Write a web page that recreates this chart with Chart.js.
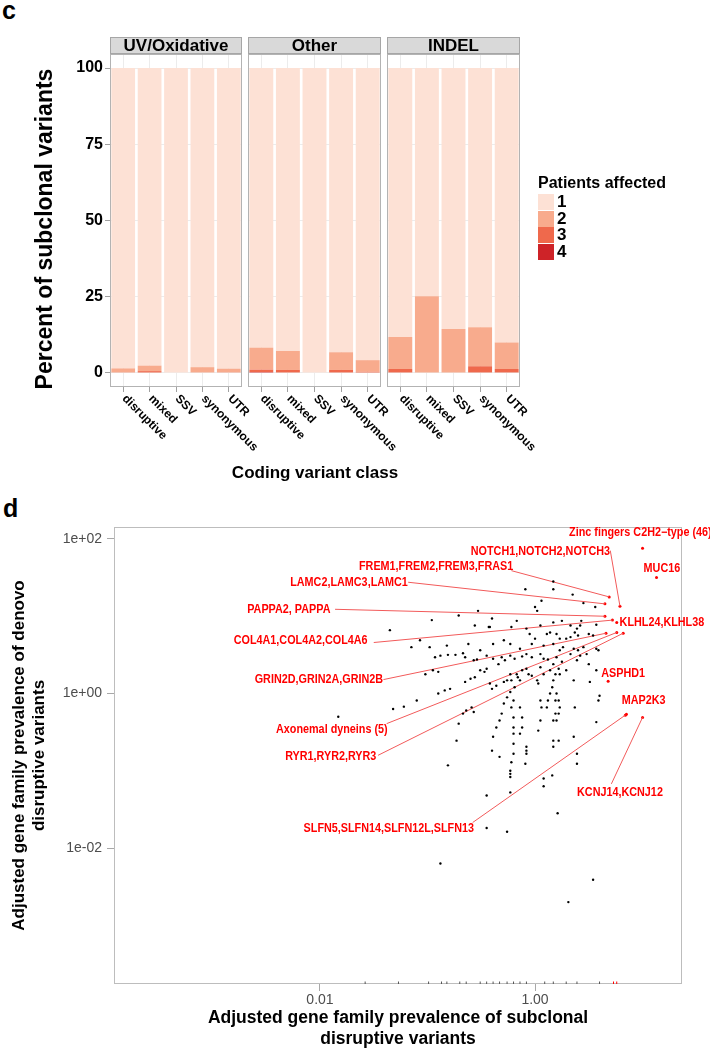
<!DOCTYPE html>
<html>
<head>
<meta charset="utf-8">
<script src="https://cdn.jsdelivr.net/npm/chart.js@4.4.1/dist/chart.umd.min.js"></script>
<style>
  body { margin: 0; background: #fff; width: 710px; height: 1050px; position: relative; overflow: hidden;
         font-family: "Liberation Sans", Arial, Helvetica, sans-serif; }
  canvas { position: absolute; left: 0; }
  .txt { position: absolute; font-weight: bold; color: #000; white-space: nowrap; }
</style>
</head>
<body>
<div class="txt" style="left:2px;top:-4px;font-size:25px">c</div>
<canvas id="facet0" width="710" height="480" style="top:0"></canvas>
<canvas id="facet1" width="710" height="480" style="top:0"></canvas>
<canvas id="facet2" width="710" height="480" style="top:0"></canvas>
<div id="legend"></div>
<div class="txt" style="left:165px;width:300px;text-align:center;top:463px;font-size:17px;line-height:20px">Coding variant class</div>
<div class="txt" style="left:3px;top:494px;font-size:25px">d</div>
<canvas id="scatter" width="710" height="560" style="top:490px"></canvas>

<script>
// ---- panel c: percent of subclonal variants by patients affected ----
const variantClasses = ["disruptive", "mixed", "SSV", "synonymous", "UTR"];
const mutationGroups = ["UV/Oxidative", "Other", "INDEL"];
const patientLevels = ["1", "2", "3", "4"];
const percentTicks = [0, 25, 50, 75, 100];

const uvPatients1 = [98.5, 97.6, 100, 98.1, 98.6];
const uvPatients2 = [1.3, 1.8, 0, 1.9, 1.2];
const uvPatients3 = [0.2, 0.6, 0, 0, 0.2];
const uvPatients4 = [0, 0, 0, 0, 0];

const otherPatients1 = [91.7, 92.8, 100, 93.2, 95.8];
const otherPatients2 = [7.2, 6.2, 0, 5.8, 3.8];
const otherPatients3 = [0.8, 1.0, 0, 1.0, 0.4];
const otherPatients4 = [0.3, 0, 0, 0, 0];

const indelPatients1 = [88.2, 74.8, 85.6, 85.0, 90.0];
const indelPatients2 = [10.5, 25.2, 14.4, 12.8, 8.7];
const indelPatients3 = [1.3, 0, 0, 2.2, 1.3];
const indelPatients4 = [0, 0, 0, 0, 0];

// ---- panel d: gene family prevalence (log10 values) ----
const subclonalTicks = [-2, 0];
const subclonalTickLabels = ["0.01", "1.00"];
const denovoTicks = [-2, 0, 2];
const denovoTickLabels = ["1e-02", "1e+00", "1e+02"];

const subclonalLog10 = [-0.09,0.17,0.17,0.35,0.06,0.00,0.02,0.45,0.56,-0.53,-0.71,-0.96,-1.35,-0.40,-0.43,-0.42,-0.56,-0.22,-0.17,0.05,
  0.17,0.25,0.33,0.39,0.42,0.43,0.57,-0.08,-0.05,0.00,0.14,0.11,0.20,0.23,0.29,0.33,0.37,0.40,0.50,0.54,
  -1.07,-1.15,-0.98,-0.82,-0.62,-0.51,-0.39,-0.29,-0.23,-0.14,-0.03,0.08,0.17,0.23,0.26,0.36,0.40,0.45,0.48,0.57,
  0.59,-0.93,-0.88,-0.81,-0.74,-0.67,-0.65,-0.57,-0.54,-0.45,-0.39,-0.34,-0.31,-0.28,-0.23,-0.19,-0.12,-0.08,-0.03,0.05,
  0.08,0.12,0.20,0.25,0.33,0.39,0.42,0.50,0.51,0.57,0.59,0.60,-1.02,-0.95,-0.90,-0.65,-0.60,-0.56,-0.51,-0.47,
  -0.45,-0.42,-0.40,-0.36,-0.29,-0.26,-0.23,-0.22,-0.17,-0.16,-0.12,-0.08,-0.06,-0.03,0.02,0.03,0.05,0.08,0.14,0.17,
  0.19,0.22,0.23,0.29,0.36,-1.10,-1.22,-1.32,-0.90,-0.84,-0.79,-0.71,-0.67,-0.64,-0.59,-0.57,-0.73,-0.40,-0.39,-0.36,
  -0.33,-0.31,-0.29,-0.26,-0.23,-0.19,-0.14,-0.20,-0.22,-0.20,-0.20,-0.20,-0.20,-0.20,-0.14,-0.12,-0.12,-0.14,-0.08,-0.08,
  0.05,0.06,0.05,0.03,0.11,0.12,0.14,0.16,0.17,0.19,0.19,0.17,0.20,0.22,0.23,0.22,0.20,0.17,0.22,0.17,
  0.36,0.39,0.37,0.57,-0.33,-0.81,-0.22,-0.23,-0.23,-0.23,-0.08,-0.09,0.08,0.08,0.16,0.39,-0.45,-0.23,0.21,-0.45,
  -0.26,-0.88,0.54,0.31,-1.83];
const denovoLog10 = [1.35,1.45,1.35,1.28,1.20,1.12,1.07,1.17,1.12,1.07,1.01,0.95,0.82,0.97,0.86,0.86,0.88,0.86,0.94,0.88,
  0.92,0.94,0.88,0.84,0.88,0.94,0.89,0.84,0.77,0.71,0.79,0.77,0.77,0.71,0.71,0.73,0.79,0.75,0.77,0.75,
  0.69,0.60,0.60,0.62,0.64,0.56,0.64,0.69,0.64,0.58,0.64,0.62,0.64,0.56,0.60,0.58,0.56,0.60,0.51,0.58,
  0.56,0.47,0.49,0.50,0.50,0.52,0.47,0.43,0.44,0.49,0.45,0.38,0.47,0.43,0.49,0.45,0.48,0.51,0.47,0.51,
  0.45,0.44,0.47,0.41,0.51,0.43,0.49,0.38,0.15,0.30,-0.09,-0.03,0.25,0.30,0.28,0.15,0.19,0.21,0.30,0.28,
  0.32,0.13,0.06,0.10,0.15,0.17,0.25,0.17,0.25,0.21,0.30,0.32,0.25,0.23,0.17,0.13,0.34,0.25,0.30,0.38,
  0.25,0.32,0.25,0.30,0.17,-0.09,-0.17,-0.20,0.00,0.04,0.06,-0.39,-0.26,-0.22,-0.18,-0.24,-0.61,-0.74,-0.56,-0.44,
  -0.35,-0.26,-0.13,-0.05,0.02,0.08,0.17,-0.09,-0.18,-0.31,-0.44,-0.52,-0.65,-0.78,-0.18,-0.31,-0.44,-0.52,-0.69,-0.78,
  -0.09,-0.18,-0.35,-0.48,-0.18,-0.09,0.00,0.08,0.17,-0.09,-0.26,-0.35,0.00,-0.09,-0.18,-0.26,-0.35,-0.61,-0.61,-0.69,
  -0.56,-0.78,-0.18,-0.37,-0.82,-0.93,-0.89,-1.00,-1.04,-1.08,-0.74,-0.91,-1.10,-1.20,-1.06,-0.91,-1.32,-1.28,-1.55,-1.74,
  -1.79,-2.20,-2.41,-2.70,-0.30];
// families with no de novo variants (log10 subclonal), shown as a rug on the x axis
const zeroDenovoLog10 = [-1.58,-1.27,-0.99,-0.87,-0.82,-0.70,-0.64,-0.51,-0.45,-0.39,-0.33,-0.26,-0.20,-0.14,-0.08,0.09,0.17,0.29,0.39,0.60];
const zeroDenovoHighlightLog10 = [0.73, 0.76];

const familyNames = ["Zinc fingers C2H2\u2212type (46)", "MUC16", "NOTCH1,NOTCH2,NOTCH3", "FREM1,FREM2,FREM3,FRAS1",
  "LAMC2,LAMC3,LAMC1", "PAPPA2, PAPPA", "KLHL24,KLHL38", "COL4A1,COL4A2,COL4A6", "GRIN2D,GRIN2A,GRIN2B",
  "Axonemal dyneins (5)", "RYR1,RYR2,RYR3", "ASPHD1", "MAP2K3", "SLFN5,SLFN14,SLFN12L,SLFN13", "KCNJ14,KCNJ12"];
const familySubclonal = [1.00, 1.13, 0.79, 0.69, 0.65, 0.65, 0.76, 0.72, 0.66, 0.76, 0.82, 0.68, 0.85, 0.84, 1.00];
const familyDenovo    = [1.88, 1.50, 1.13, 1.25, 1.16, 1.00, 0.92, 0.95, 0.78, 0.79, 0.78, 0.16, -0.27, -0.28, -0.31];
const labelSubclonal  = [0.98, 1.18, 0.05, -0.92, -1.73, -2.29, 1.18, -2.18, -2.01, -1.89, -1.90, 0.82, 1.01, -1.36, 0.79];
const labelDenovo     = [2.08, 1.62, 1.84, 1.64, 1.44, 1.09, 0.92, 0.69, 0.18, -0.47, -0.82, 0.26, -0.09, -1.75, -1.29];
const segmentSubclonal = [null, null, 0.70, -0.22, -1.18, -1.86, null, -1.50, -1.41, -1.38, -1.46, null, null, -0.58, 0.71];
const segmentDenovo    = [null, null, 1.85, 1.59, 1.44, 1.09, null, 0.66, 0.18, -0.39, -0.80, null, null, -1.67, -1.17];

// ---- styling ----
const FONT = '"Liberation Sans", Arial, Helvetica, sans-serif';
Chart.defaults.font.family = FONT;
Chart.defaults.animation = false;
const patientColors = ["#fde1d5", "#f8ab8d", "#ef694c", "#ce2328"];
const facetValues = [
  [uvPatients1, uvPatients2, uvPatients3, uvPatients4],
  [otherPatients1, otherPatients2, otherPatients3, otherPatients4],
  [indelPatients1, indelPatients2, indelPatients3, indelPatients4]
];
const facetLeft = [110, 248, 387];
const facetRight = [242, 381, 520];

const facetDecor = {
  id: "facetDecor",
  afterDraw(chart, args, opts) {
    const { ctx, chartArea: a, scales } = chart;
    ctx.save();
    ctx.strokeStyle = "#b3b3b3";
    ctx.lineWidth = 1;
    ctx.strokeRect(a.left + 0.5, a.top + 0.5, a.right - a.left - 1, a.bottom - a.top - 1);
    const h = 17;
    ctx.fillStyle = "#d9d9d9";
    ctx.fillRect(a.left, a.top - h, a.right - a.left, h);
    ctx.strokeStyle = "#a6a6a6";
    ctx.strokeRect(a.left + 0.5, a.top - h + 0.5, a.right - a.left - 1, h - 1);
    ctx.fillStyle = "#000";
    ctx.font = "bold 17px " + FONT;
    ctx.textAlign = "center";
    ctx.textBaseline = "middle";
    ctx.fillText(opts.title, (a.left + a.right) / 2, a.top - h / 2 + 1);

    // y axis title (only on the first facet)
    if (opts.yTitle) {
      ctx.save();
      ctx.font = "bold 23px " + FONT;
      ctx.translate(46, 229);
      ctx.rotate(-Math.PI / 2);
      ctx.fillText(opts.yTitle, 0, 0);
      ctx.restore();
    }

    ctx.font = "bold 12px " + FONT;
    ctx.textAlign = "left";
    variantClasses.forEach((c, i) => {
      const x = scales.x.getPixelForTick(i);
      ctx.save();
      ctx.translate(x + 1, a.bottom + 10);
      ctx.rotate(Math.PI / 4);
      ctx.fillText(c, 0, 0);
      ctx.restore();
    });
    ctx.restore();
  }
};

mutationGroups.forEach((group, idx) => {
  const first = idx === 0;
  const rows = facetValues[idx];
  const datasets = [3, 2, 1, 0].map(k => ({
    label: patientLevels[k],
    data: rows[k],
    backgroundColor: patientColors[k],
    borderWidth: 0,
    barPercentage: 0.9,
    categoryPercentage: 1.0
  }));
  new Chart(document.getElementById("facet" + idx), {
    type: "bar",
    data: { labels: variantClasses, datasets },
    plugins: [facetDecor],
    options: {
      responsive: false,
      animation: false,
      layout: { padding: { left: first ? 0 : facetLeft[idx], right: 710 - facetRight[idx], top: 54, bottom: 0 } },
      plugins: {
        legend: { display: false },
        tooltip: { enabled: false },
        facetDecor: { title: group, yTitle: first ? "Percent of subclonal variants" : null }
      },
      scales: {
        x: {
          stacked: true,
          ticks: { display: false },
          grid: { color: "#ececec", tickColor: "#a0a0a0", tickLength: 5, offset: false },
          border: { display: false },
          afterFit(s) { s.height = 93; }
        },
        y: {
          stacked: true,
          min: -4.6,
          max: 104.6,
          afterBuildTicks(s) { s.ticks = percentTicks.map(v => ({ value: v })); },
          ticks: { display: first, color: "#000", font: { size: 16, weight: "bold" }, padding: 2 },
          grid: { color: "#ececec", tickColor: "#a0a0a0", tickLength: 5, drawTicks: first },
          border: { display: false },
          afterFit(s) { s.width = first ? 110 : 0; }
        }
      }
    }
  });
});

// legend for panel c
const legend = document.getElementById("legend");
let html = '<div class="txt" style="left:538px;top:174px;font-size:16px">Patients affected</div>';
patientLevels.forEach((lv, i) => {
  const top = 194 + i * 16.7;
  html += '<div style="position:absolute;left:538px;top:' + top + 'px;width:16px;height:16px;background:' + patientColors[i] + '"></div>';
  html += '<div class="txt" style="left:557px;top:' + (top - 1) + 'px;font-size:17px;line-height:18px">' + lv + '</div>';
});
legend.innerHTML = html;

// ---- panel d ----
const familyDecor = {
  id: "familyDecor",
  afterDraw(chart) {
    const { ctx, chartArea: a, scales } = chart;
    ctx.save();
    ctx.strokeStyle = "#bdbdbd";
    ctx.lineWidth = 1;
    ctx.strokeRect(a.left + 0.5, a.top + 0.5, a.right - a.left - 1, a.bottom - a.top - 1);
    // rug of zero de novo prevalence
    ctx.strokeStyle = "#555";
    zeroDenovoLog10.forEach(v => {
      const x = scales.x.getPixelForValue(v);
      ctx.beginPath(); ctx.moveTo(x, a.bottom - 2.5); ctx.lineTo(x, a.bottom); ctx.stroke();
    });
    ctx.strokeStyle = "#f00";
    zeroDenovoHighlightLog10.forEach(v => {
      const x = scales.x.getPixelForValue(v);
      ctx.beginPath(); ctx.moveTo(x, a.bottom - 2.5); ctx.lineTo(x, a.bottom); ctx.stroke();
    });
    // family labels
    ctx.fillStyle = "#f00";
    ctx.font = "bold 12px " + FONT;
    ctx.textAlign = "center";
    ctx.textBaseline = "middle";
    familyNames.forEach((name, i) => {
      const x = scales.x.getPixelForValue(labelSubclonal[i]);
      const y = scales.y.getPixelForValue(labelDenovo[i]);
      ctx.save();
      ctx.translate(x, y);
      ctx.scale(0.9, 1);
      ctx.fillText(name, 0, 0);
      ctx.restore();
    });
    ctx.restore();
  }
};

const scatterSets = [{
  type: "scatter",
  data: subclonalLog10.map((x, i) => ({ x, y: denovoLog10[i] })),
  backgroundColor: "#000",
  borderWidth: 0,
  pointRadius: 1.2
}];
familyNames.forEach((n, i) => {
  if (segmentSubclonal[i] === null) return;
  scatterSets.push({
    type: "line",
    data: [{ x: segmentSubclonal[i], y: segmentDenovo[i] }, { x: familySubclonal[i], y: familyDenovo[i] }],
    borderColor: "#f25a5a",
    borderWidth: 1,
    pointRadius: 0,
    fill: false
  });
});
scatterSets.push({
  type: "scatter",
  data: familySubclonal.map((x, i) => ({ x, y: familyDenovo[i] })),
  backgroundColor: "#f00",
  borderWidth: 0,
  pointRadius: 1.5
});

new Chart(document.getElementById("scatter"), {
  type: "scatter",
  data: { datasets: scatterSets },
  plugins: [familyDecor],
  options: {
    responsive: false,
    animation: false,
    layout: { padding: { left: 0, right: 28, top: 37, bottom: 0 } },
    plugins: { legend: { display: false }, tooltip: { enabled: false } },
    scales: {
      x: {
        type: "linear",
        min: -3.916,
        max: 1.367,
        afterBuildTicks(s) { s.ticks = subclonalTicks.map(v => ({ value: v })); },
        ticks: {
          color: "#4d4d4d", font: { size: 14 }, padding: 1,
          callback: v => subclonalTickLabels[subclonalTicks.indexOf(v)]
        },
        grid: { drawOnChartArea: false, tickColor: "#a8a8a8", tickLength: 7 },
        border: { display: false },
        title: {
          display: true,
          text: ["Adjusted gene family prevalence of subclonal", "disruptive variants"],
          color: "#000",
          font: { size: 17.5, weight: "bold", lineHeight: 1.2 },
          padding: { top: 0, bottom: 0 }
        },
        afterFit(s) { s.height = 66; }
      },
      y: {
        type: "linear",
        min: -3.76,
        max: 2.155,
        afterBuildTicks(s) { s.ticks = denovoTicks.map(v => ({ value: v })); },
        ticks: {
          color: "#4d4d4d", font: { size: 14 }, padding: 5,
          callback: v => denovoTickLabels[denovoTicks.indexOf(v)]
        },
        grid: { drawOnChartArea: false, tickColor: "#a8a8a8", tickLength: 7 },
        border: { display: false },
        title: {
          display: true,
          text: ["Adjusted gene family prevalence of denovo", "disruptive variants"],
          color: "#000",
          font: { size: 17, weight: "bold", lineHeight: 1.2 },
          padding: { top: 9, bottom: 0 }
        },
        afterFit(s) { s.width = 114; }
      }
    }
  }
});
</script>
</body>
</html>
